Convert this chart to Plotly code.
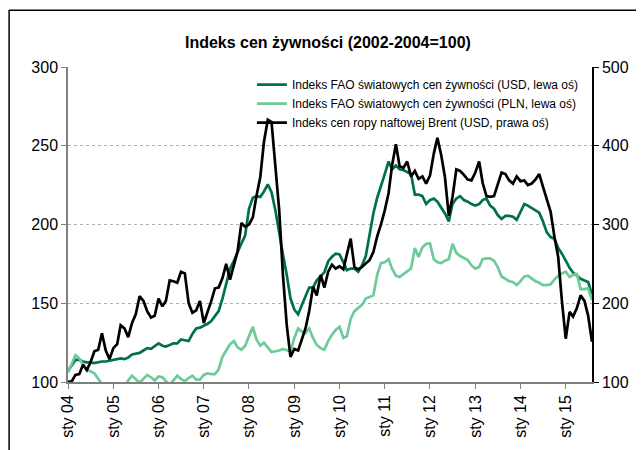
import pandas as pd
import plotly.graph_objects as go

months = pd.date_range("2004-01-01", periods=140, freq="MS")

fao_usd = [
    107, 111, 114, 114, 113, 112.5, 112.5, 112, 112.5, 113, 113, 113.5,
    114, 114.5, 115, 114.5, 115.5, 117.5, 118, 118.5, 120, 121.5, 121, 122.5,
    124.5, 123, 122.5, 123.5, 124.5, 124.5, 127, 126.5, 126, 130.5, 134, 134.5,
    135.5, 137, 138.5, 142, 145, 153, 162, 172, 177, 183, 188, 193,
    210, 217, 218, 217.5, 221, 225.5, 220.5, 209, 194, 181, 168, 153,
    146, 143, 148.5, 154, 160, 160, 164.5, 167, 169.8, 176.5, 179.5, 181.5,
    181, 176, 171, 172, 172, 170, 174, 180, 195, 207, 217, 224,
    232, 240, 235, 237.5, 235, 234.5, 233.5, 232, 219, 219, 218, 213,
    215.5, 216.5, 214.5, 210.5, 207, 202, 213, 216.5, 218, 215.5, 214.5, 213,
    212, 213, 215.5, 216.5, 212, 210, 206, 203.5, 205.5, 205.5, 205, 203,
    208.5, 213, 212, 210.5, 209.5, 207.5, 202, 195, 192, 191, 185, 181.5,
    177, 172.5, 169.5, 167.5, 165.5, 164.5, 163.5, 155.5,
]

fao_pln = [
    106, 112, 117, 115, 111, 108, 106.5, 105.5, 102, 98, 95, 93,
    92, 92, 93, 97, 101, 104, 101.5, 99.5, 102, 104.5, 103, 101,
    103.5, 103, 100.5, 98.5, 101, 104, 102, 100.5, 102.5, 104, 101.5, 101.5,
    104.5, 105.5, 105, 105, 108, 116, 120, 124, 126, 122, 120.5, 123,
    129, 135, 127, 123, 125, 122, 119, 119.5, 120, 121, 120, 119.5,
    128, 134, 132, 131, 134, 128, 123.5, 121.5, 120.5, 126, 130, 133,
    135, 128, 129, 140, 145, 147, 149, 153, 154, 155, 168, 175.5,
    176, 178, 172, 167.5, 166.7, 168.5, 170.5, 172, 185, 179.3, 185.6, 187.7,
    188, 178, 176, 175.5, 177, 178, 187.7, 182, 180, 179, 177.5, 174,
    172, 173, 178, 178.5, 178.5, 177, 173, 167, 165.5, 164, 163.5, 161.5,
    164, 167, 167.5, 165.5, 164, 163, 161.5, 161.5, 162, 165, 167.5, 169,
    170, 166.7, 168, 168.5, 159, 159, 159.5, 152,
]

brent = [
    100, 101, 109, 110, 122, 115, 125, 139, 141, 162, 140, 129,
    143, 148, 172, 168, 157, 175, 186, 209, 203, 190, 182, 184,
    206, 196, 203, 229, 228, 226, 240, 238, 200, 188, 191, 203,
    175, 188, 202, 219, 220, 232, 250, 230, 248, 266, 302, 297,
    300, 309, 336, 360, 405, 433, 430, 368, 318, 236, 172, 132,
    142, 140, 152, 168, 190, 221, 210, 236, 220, 240, 249, 244,
    247, 243, 262, 282, 246, 243, 246, 251, 255, 265, 285, 300,
    318, 340, 375, 402, 374, 372, 380, 361, 368, 358, 361, 352,
    362, 390, 410, 388, 360, 311, 335, 370, 368, 363, 357, 356,
    366, 380, 353, 336, 335, 336, 352, 366, 364, 356, 352, 361,
    355, 356, 350, 352, 357, 364, 348, 331, 316, 285, 259, 203,
    155, 189, 183, 194, 210, 203, 184, 151,
]

tick_years = ["04", "05", "06", "07", "08", "09", "10", "11", "12", "13", "14", "15"]
tick_vals = [pd.Timestamp(f"20{y}-01-01") for y in tick_years]
tick_text = [f"sty {y}" for y in tick_years]

names = [
    "Indeks FAO światowych cen żywności (USD, lewa oś)",
    "Indeks FAO światowych cen żywności (PLN, lewa oś)",
    "Indeks cen ropy naftowej Brent (USD, prawa oś)",
]

DARK = "#00714A"
LIGHT = "#6CCB98"
FONT = "Liberation Sans, Arial, sans-serif"

fig = go.Figure()
fig.add_trace(go.Scatter(x=months, y=fao_usd, name=names[0], mode="lines",
                         line=dict(color=DARK, width=2.7), yaxis="y"))
fig.add_trace(go.Scatter(x=months, y=fao_pln, name=names[1], mode="lines",
                         line=dict(color=LIGHT, width=2.7), yaxis="y"))
fig.add_trace(go.Scatter(x=months, y=brent, name=names[2], mode="lines",
                         line=dict(color="black", width=2.7), yaxis="y2"))

# page body has an 8px margin; figure sized to fit the 644x450 window
fig.update_layout(
    width=636, height=442,
    margin=dict(l=59.5, r=51.5, t=59, b=66),
    paper_bgcolor="white", plot_bgcolor="white",
    font=dict(family=FONT, color="black"),
    title=dict(text="<b>Indeks cen żywności (2002-2004=100)</b>",
               x=0.503, xanchor="center", y=0.923, yanchor="middle",
               font=dict(size=16, family=FONT, color="black")),
    showlegend=True,
    legend=dict(x=0.351, xanchor="left", y=0.99, yanchor="top",
                bgcolor="rgba(0,0,0,0)", font=dict(size=12, family=FONT),
                tracegroupgap=0, itemwidth=30),
    xaxis=dict(type="date", range=[months[0], months[-1]],
               tickmode="array", tickvals=tick_vals, ticktext=tick_text,
               tickangle=-90, ticks="outside", ticklen=5, tickcolor="#808080",
               showline=True, linecolor="#808080", linewidth=1.5,
               showgrid=False, zeroline=False,
               tickfont=dict(size=16, family=FONT, color="black")),
    yaxis=dict(range=[100, 300], tickvals=[100, 150, 200, 250, 300],
               ticks="outside", ticklen=5, tickcolor="#808080",
               showline=True, linecolor="#808080", linewidth=1.5,
               showgrid=True, gridcolor="#b0b0b0", griddash="dot", gridwidth=1,
               zeroline=False, tickfont=dict(size=16, family=FONT, color="black")),
    yaxis2=dict(range=[100, 500], tickvals=[100, 200, 300, 400, 500],
                overlaying="y", side="right",
                ticks="outside", ticklen=5, tickcolor="black",
                showline=True, linecolor="black", linewidth=1.5,
                showgrid=False, zeroline=False,
                tickfont=dict(size=16, family=FONT, color="black")),
    shapes=[
        dict(type="line", xref="paper", yref="paper", x0=-0.113, x1=1.2, y0=1.1798, y1=1.1798,
             line=dict(color="black", width=1.5)),
        dict(type="line", xref="paper", yref="paper", x0=-0.1124, x1=-0.1124, y0=-0.3, y1=1.1798,
             line=dict(color="black", width=1.5)),
    ],
)

fig.write_html("out.html")
